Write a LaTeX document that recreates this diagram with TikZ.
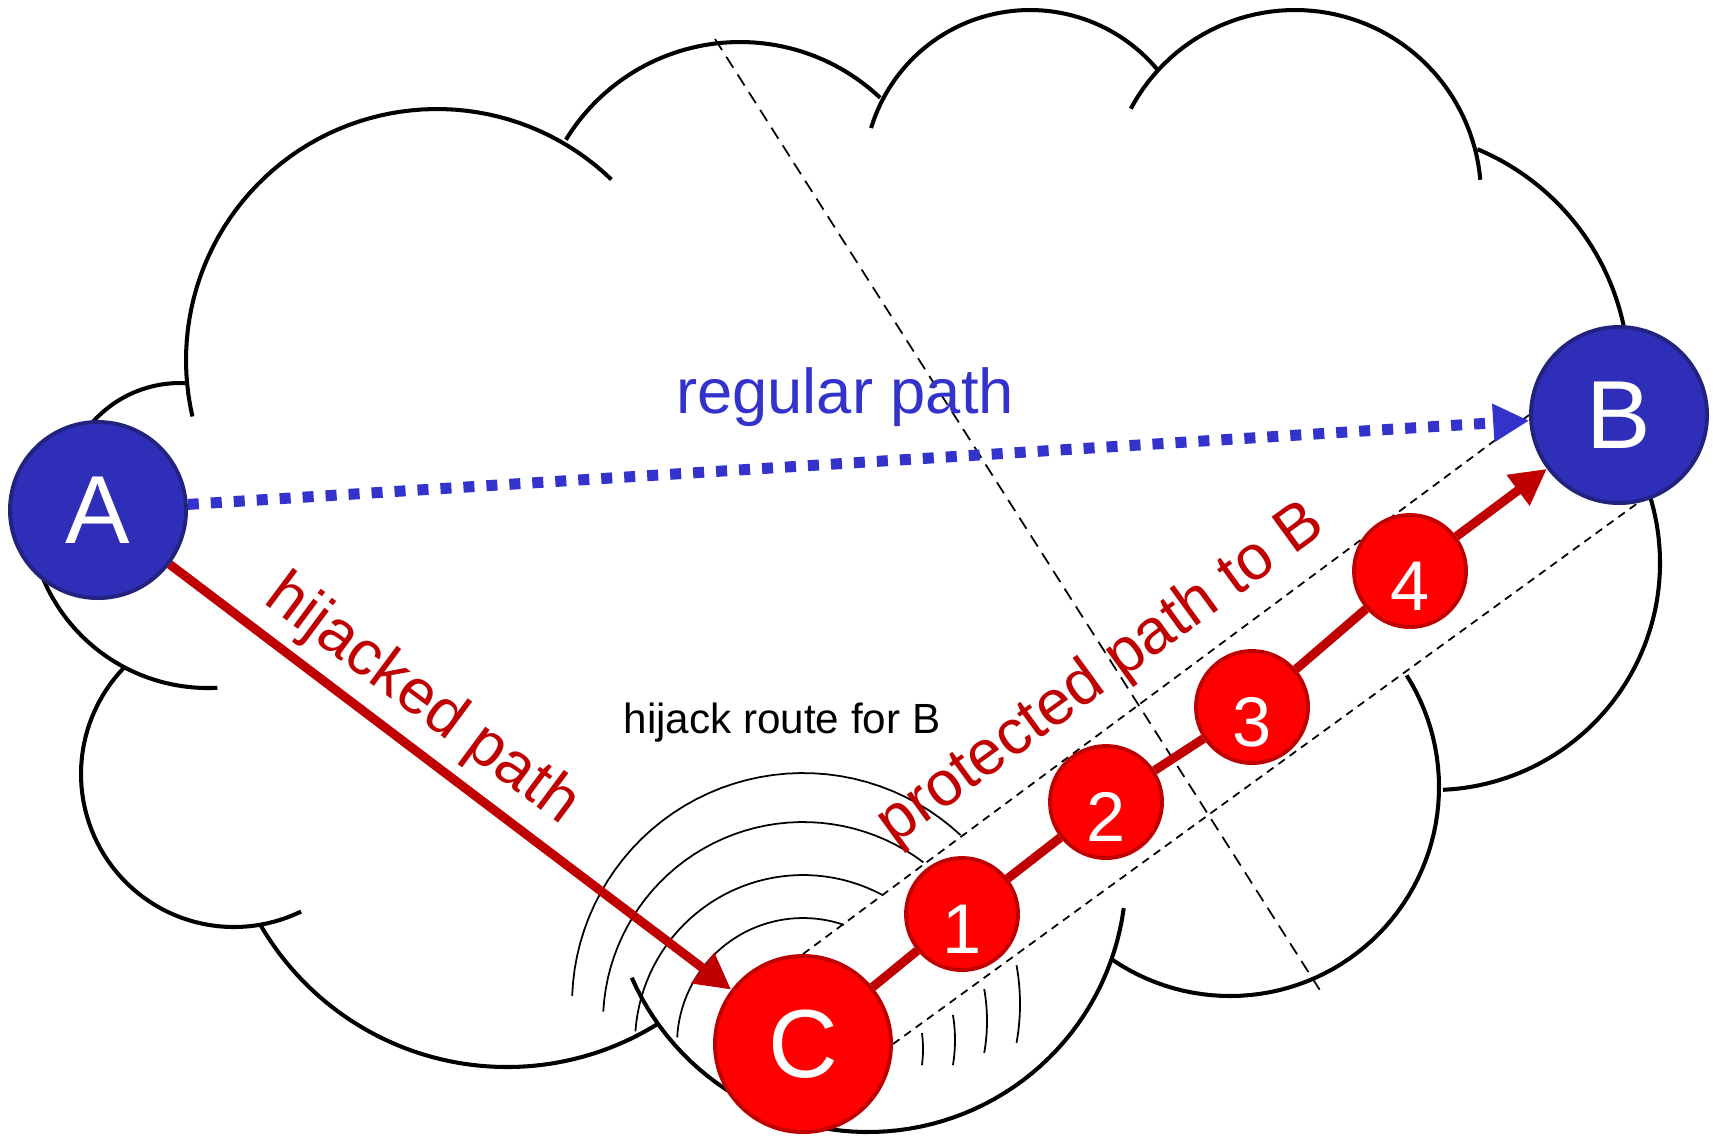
\documentclass[tikz,border=0pt]{standalone}
\usepackage{fontspec}
\setmainfont{Liberation Sans}
\usetikzlibrary{arrows.meta,backgrounds}

\definecolor{hostBlue}{HTML}{2E2EB8}
\definecolor{hostEdge}{HTML}{22227F}
\definecolor{pathBlue}{HTML}{3333CC}
\definecolor{asRed}{HTML}{FF0000}
\definecolor{asEdge}{HTML}{C00000}

\tikzset{
    hostnode/.style={circle,fill=hostBlue,draw=hostEdge,line width=1.1pt,
        minimum size=1.76cm,inner sep=0pt,text=white,
        font=\fontsize{27.5}{30}\selectfont},
    bignode/.style={hostnode,fill=asRed,draw=asEdge},
    relaynode/.style={circle,fill=asRed,draw=asEdge,line width=1.1pt,
        minimum size=1.12cm,inner sep=0pt,text=white,text height=0.78cm,text depth=0pt,
        font=\fontsize{20}{24}\selectfont},
    bigtext/.style={font=\fontsize{18}{21}\selectfont,inner sep=0pt,anchor=base},
    cloudline/.style={line width=1.15pt},
    wavearc/.style={line width=0.5pt},
    tipred/.style={-{Triangle[length=0.36cm,width=0.36cm]}},
}

\begin{document}
\begin{tikzpicture}[x=0.01cm,y=-0.01cm]
\useasboundingbox (0,0) rectangle (1713,1135);

\node[hostnode] (nA) at (98,510) {A};
\node[hostnode] (nB) at (1619,415) {B};
\node[bignode] (nC) at (803,1044) {C};
\foreach \v/\x/\y in {1/962/914, 2/1106/802, 3/1252/707, 4/1410/571}
{
    \node[relaynode] (n\v) at (\x,\y) {\v};
};

\node[bigtext,text=pathBlue] (tRegular) at (845,413) {regular path};
\node[bigtext,text=asEdge,rotate=-36.6] (tHijacked) at (412,714) {hijacked path};
\node[bigtext,text=asEdge,rotate=36] (tProtected) at (1111,688) {protected path to B};
\node[bigtext,font=\fontsize{12}{14}\selectfont] (tRoute) at (782,733) {hijack route for B};

\coordinate (cCutTop) at (715,39);
\coordinate (cCutBot) at (1323,995);

\begin{pgfonlayer}{background}
% cloud: one arc per bump, centre / radius / angles
\foreach \cx/\cy/\r/\a/\b in
{437/360/251/46/193,
    180/500/117/86/170,
    740/246/204/46.6/148.6,
    1030/176/166/39.6/163.2,
    1295/196/186/5/152,
    1382/377/247/-10/67.3,
    1433/563/227/-87.5/21,
    1230/787/209/-124.3/32.3,
    868/874/258/-156.3/-7.6,
    507/782/285/-150/-57.9,
    234/774/153/136/296,
    208/509/179/200/273}
{
    \draw[cloudline] plot[domain=\a:\b,samples=60] ({\cx+\r*cos(\x)},{\cy-\r*sin(\x)});
};

% waves round C
\foreach \cy/\r/\a/\b in {1044/126/71/177, 1043/168/62/176, 1022/200/53/177, 1004/231/47/178}
{
    \draw[wavearc] plot[domain=\a:\b,samples=40] ({803+\r*cos(\x)},{\cy-\r*sin(\x)});
};
\foreach \cy/\r/\a in {1049/120/7.7, 1040/152/9.5, 1021/184/10, 1004/217/10.3}
{
    \draw[wavearc] plot[domain=-\a:\a,samples=20] ({803+\r*cos(\x)},{\cy-\r*sin(\x)});
};

% dashed guides
\draw[line width=0.5pt,dash pattern=on 0.13cm off 0.08cm] (cCutTop) -- (cCutBot);
\draw[line width=0.5pt,dash pattern=on 0.08cm off 0.06cm] (nC.north) -- (nB.west);
\draw[line width=0.5pt,dash pattern=on 0.08cm off 0.06cm] (nC.east) -- (nB.-78);

% paths
\draw[pathBlue,line width=0.11cm,dash pattern=on 0.11cm off 0.12cm,
    -{Triangle[length=0.36cm,width=0.36cm]}] (nA) -- (nB);
\draw[asEdge,line width=0.09cm,tipred] (nA) -- (nC);
\draw[asEdge,line width=0.09cm] (nC) -- (n1) -- (n2) -- (n3) -- (n4);
\draw[asEdge,line width=0.09cm,tipred] (n4) -- (nB);
\end{pgfonlayer}
\end{tikzpicture}
\end{document}
